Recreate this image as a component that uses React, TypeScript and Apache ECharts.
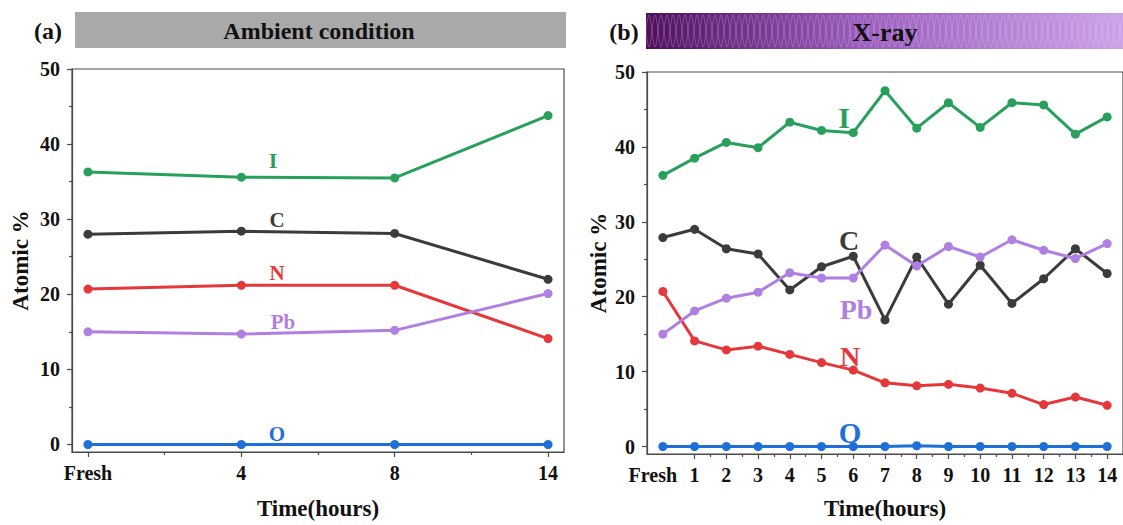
import React, { useEffect, useRef } from "react";
import * as echarts from "echarts";

// ---------- data ----------
const leftCats = ["Fresh", "4", "8", "14"];
const leftI = [36.3, 35.6, 35.5, 43.8];
const leftC = [28.0, 28.4, 28.1, 22.0];
const leftN = [20.7, 21.2, 21.2, 14.1];
const leftPb = [15.0, 14.7, 15.2, 20.1];
const leftO = [0, 0, 0, 0];

const rightCats = ["Fresh", "1", "2", "3", "4", "5", "6", "7", "8", "9", "10", "11", "12", "13", "14"];
const rightI = [36.2, 38.5, 40.6, 39.9, 43.3, 42.2, 41.9, 47.5, 42.5, 45.9, 42.6, 45.9, 45.6, 41.7, 44.0];
const rightC = [27.9, 29.0, 26.4, 25.7, 20.9, 24.0, 25.4, 16.9, 25.3, 19.0, 24.2, 19.1, 22.4, 26.4, 23.1];
const rightPb = [15.0, 18.1, 19.8, 20.6, 23.2, 22.5, 22.5, 26.9, 24.1, 26.7, 25.3, 27.6, 26.2, 25.1, 27.1];
const rightN = [20.7, 14.1, 12.9, 13.4, 12.3, 11.2, 10.2, 8.5, 8.1, 8.3, 7.8, 7.1, 5.6, 6.6, 5.5];
const rightO = [0, 0, 0, 0, 0, 0, 0, 0, 0.1, 0, 0, 0, 0, 0, 0];

const yTicks = [0, 10, 20, 30, 40, 50];
const yMinor = [5, 15, 25, 35, 45];
const leftMajorX = [0, 1, 2, 3];
const leftMinorX = [0.5, 1.5, 2.5];
const rightMajorX = [1, 2, 3, 4, 5, 6, 7, 8, 9, 10, 11, 12, 13, 14];
const rightMinorX = [1.5, 2.5, 3.5, 4.5, 5.5, 6.5, 7.5, 8.5, 9.5, 10.5, 11.5, 12.5, 13.5];
const rightLabelX = [0, ...rightMajorX];

const COLORS = { I: "#27a05c", C: "#3b3b3b", N: "#e5383b", Pb: "#b07fe2", O: "#1f6fd8" };
const SERIF = "Liberation Serif";
const AXIS_COLOR = "#4a4a4a";

const toPairs = (arr: number[]) => arr.map((v, i) => [i, v]);

function App() {
  const ref = useRef<HTMLDivElement>(null);
  useEffect(() => {
    if (!ref.current) return;
    const chart = echarts.init(ref.current, undefined, { renderer: "svg" });

    const labelStyle = { fontFamily: SERIF, fontWeight: "bold" as const, fontSize: 20, color: "#111" };
    const nameStyle = { fontFamily: SERIF, fontWeight: "bold" as const, fontSize: 23, color: "#111" };

    const majorX = (gridIndex: number, min: number, max: number, cats: string[], values: number[], labelValues: number[], nameGap: number) => ({
      type: "value",
      gridIndex,
      min,
      max,
      position: "bottom",
      name: "Time(hours)",
      nameLocation: "middle",
      nameGap,
      nameTextStyle: nameStyle,
      axisLine: { show: true, onZero: false, lineStyle: { color: AXIS_COLOR, width: 1.2 } },
      axisTick: { show: true, customValues: values, length: 5, lineStyle: { color: AXIS_COLOR, width: 1.2 } },
      axisLabel: {
        show: true,
        customValues: labelValues,
        margin: 11,
        ...labelStyle,
        formatter: (v: number) => {
          const t = cats[Math.round(v)];
          return t === "Fresh" && cats.length > 4 ? "{f|Fresh}" : t;
        },
        rich: { f: { ...labelStyle, padding: [0, 20, 0, 0] } },
      },
      splitLine: { show: false },
    });
    const minorX = (gridIndex: number, min: number, max: number, values: number[]) => ({
      type: "value",
      gridIndex,
      min,
      max,
      position: "bottom",
      axisLine: { show: false, onZero: false },
      axisTick: { show: true, customValues: values, length: 3, lineStyle: { color: AXIS_COLOR, width: 1.2 } },
      axisLabel: { show: false },
      splitLine: { show: false },
    });
    const majorY = (gridIndex: number, nameGap: number) => ({
      type: "value",
      gridIndex,
      min: -1,
      max: 50,
      position: "left",
      name: "Atomic %",
      nameLocation: "middle",
      nameRotate: 90,
      nameGap,
      nameTextStyle: nameStyle,
      axisLine: { show: true, onZero: false, lineStyle: { color: AXIS_COLOR, width: 1.2 } },
      axisTick: { show: true, customValues: yTicks, length: 5, lineStyle: { color: AXIS_COLOR, width: 1.2 } },
      axisLabel: { show: true, customValues: yTicks, margin: 12, ...labelStyle },
      splitLine: { show: false },
    });
    const minorY = (gridIndex: number) => ({
      type: "value",
      gridIndex,
      min: -1,
      max: 50,
      position: "left",
      axisLine: { show: false, onZero: false },
      axisTick: { show: true, customValues: yMinor, length: 3, lineStyle: { color: AXIS_COLOR, width: 1.2 } },
      axisLabel: { show: false },
      splitLine: { show: false },
    });

    const mkSeries = (name: string, data: number[], xi: number, yi: number) => ({
      type: "line",
      name,
      xAxisIndex: xi,
      yAxisIndex: yi,
      data: toPairs(data),
      symbol: "circle",
      symbolSize: 9,
      lineStyle: { color: (COLORS as any)[name], width: 3 },
      itemStyle: { color: (COLORS as any)[name] },
      z: 3,
    });

    // decorative wave for the X-ray banner
    const waveA: number[][] = [];
    const waveB: number[][] = [];
    for (let x = 646; x <= 1123; x += 1) {
      const s = Math.sin(((x - 646) / 12) * Math.PI * 2);
      waveA.push([x, 31 + 16 * s]);
      waveB.push([x, 31 - 16 * s]);
    }

    const txt = (text: string, x: number, y: number, size: number, fill: string) => ({
      type: "text",
      x,
      y,
      z: 10,
      style: {
        text,
        fill,
        font: `bold ${size}px "${SERIF}", serif`,
        textAlign: "center",
        textVerticalAlign: "middle",
        align: "center",
        verticalAlign: "middle",
      },
    });

    chart.setOption({
      animation: false,
      backgroundColor: "#ffffff",
      grid: [
        { left: 72, top: 69, width: 492, height: 388, show: true, borderColor: AXIS_COLOR, borderWidth: 1.2, backgroundColor: "transparent" },
        { left: 647, top: 72, width: 480, height: 387, show: true, borderColor: AXIS_COLOR, borderWidth: 1.2, backgroundColor: "transparent" },
      ],
      xAxis: [
        majorX(0, -0.104, 3.104, leftCats, leftMajorX, leftMajorX, 45),
        minorX(0, -0.104, 3.104, leftMinorX),
        majorX(1, -0.5, 14.5, rightCats, rightMajorX, rightLabelX, 43),
        minorX(1, -0.5, 14.5, rightMinorX),
      ],
      yAxis: [majorY(0, 40), minorY(0), majorY(1, 37), minorY(1)],
      series: [
        mkSeries("I", leftI, 0, 0),
        mkSeries("C", leftC, 0, 0),
        mkSeries("N", leftN, 0, 0),
        mkSeries("Pb", leftPb, 0, 0),
        mkSeries("O", leftO, 0, 0),
        mkSeries("I", rightI, 2, 2),
        mkSeries("C", rightC, 2, 2),
        mkSeries("N", rightN, 2, 2),
        mkSeries("Pb", rightPb, 2, 2),
        mkSeries("O", rightO, 2, 2),
      ],
      graphic: [
        { type: "rect", shape: { x: 75, y: 12, width: 491, height: 36 }, style: { fill: "#a9a9a9" }, z: 1 },
        txt("Ambient condition", 319, 31, 24, "#111"),
        txt("(a)", 48, 31, 24, "#111"),
        {
          type: "rect",
          shape: { x: 646, y: 13, width: 477, height: 36 },
          style: {
            fill: new echarts.graphic.LinearGradient(0, 0, 1, 0, [
              { offset: 0, color: "#4e105c" },
              { offset: 0.45, color: "#9a5cbc" },
              { offset: 1, color: "#caa2e6" },
            ]),
          },
          z: 1,
        },
        { type: "polyline", shape: { points: waveA }, style: { stroke: "rgba(240,220,255,0.35)", lineWidth: 0.7, fill: null }, z: 2, silent: true },
        { type: "polyline", shape: { points: waveB }, style: { stroke: "rgba(240,220,255,0.35)", lineWidth: 0.7, fill: null }, z: 2, silent: true },
        txt("X-ray", 885, 32, 26, "#111"),
        txt("(b)", 624, 32, 24, "#111"),
        // left panel element labels
        txt("I", 273, 160, 22, COLORS.I),
        txt("C", 277, 220, 21, COLORS.C),
        txt("N", 277, 273, 21, COLORS.N),
        txt("Pb", 283, 322, 21, COLORS.Pb),
        txt("O", 277, 434, 21, COLORS.O),
        // right panel element labels
        txt("I", 844, 117, 30, COLORS.I),
        txt("C", 849, 240, 28, COLORS.C),
        txt("Pb", 856, 309, 28, COLORS.Pb),
        txt("N", 850, 356, 28, COLORS.N),
        txt("O", 850, 433, 29, COLORS.O),
      ],
    });
    return () => chart.dispose();
  }, []);
  return <div ref={ref} style={{ position: "fixed", left: 0, top: 0, width: 1123, height: 525 }} />;
}

export default App;
